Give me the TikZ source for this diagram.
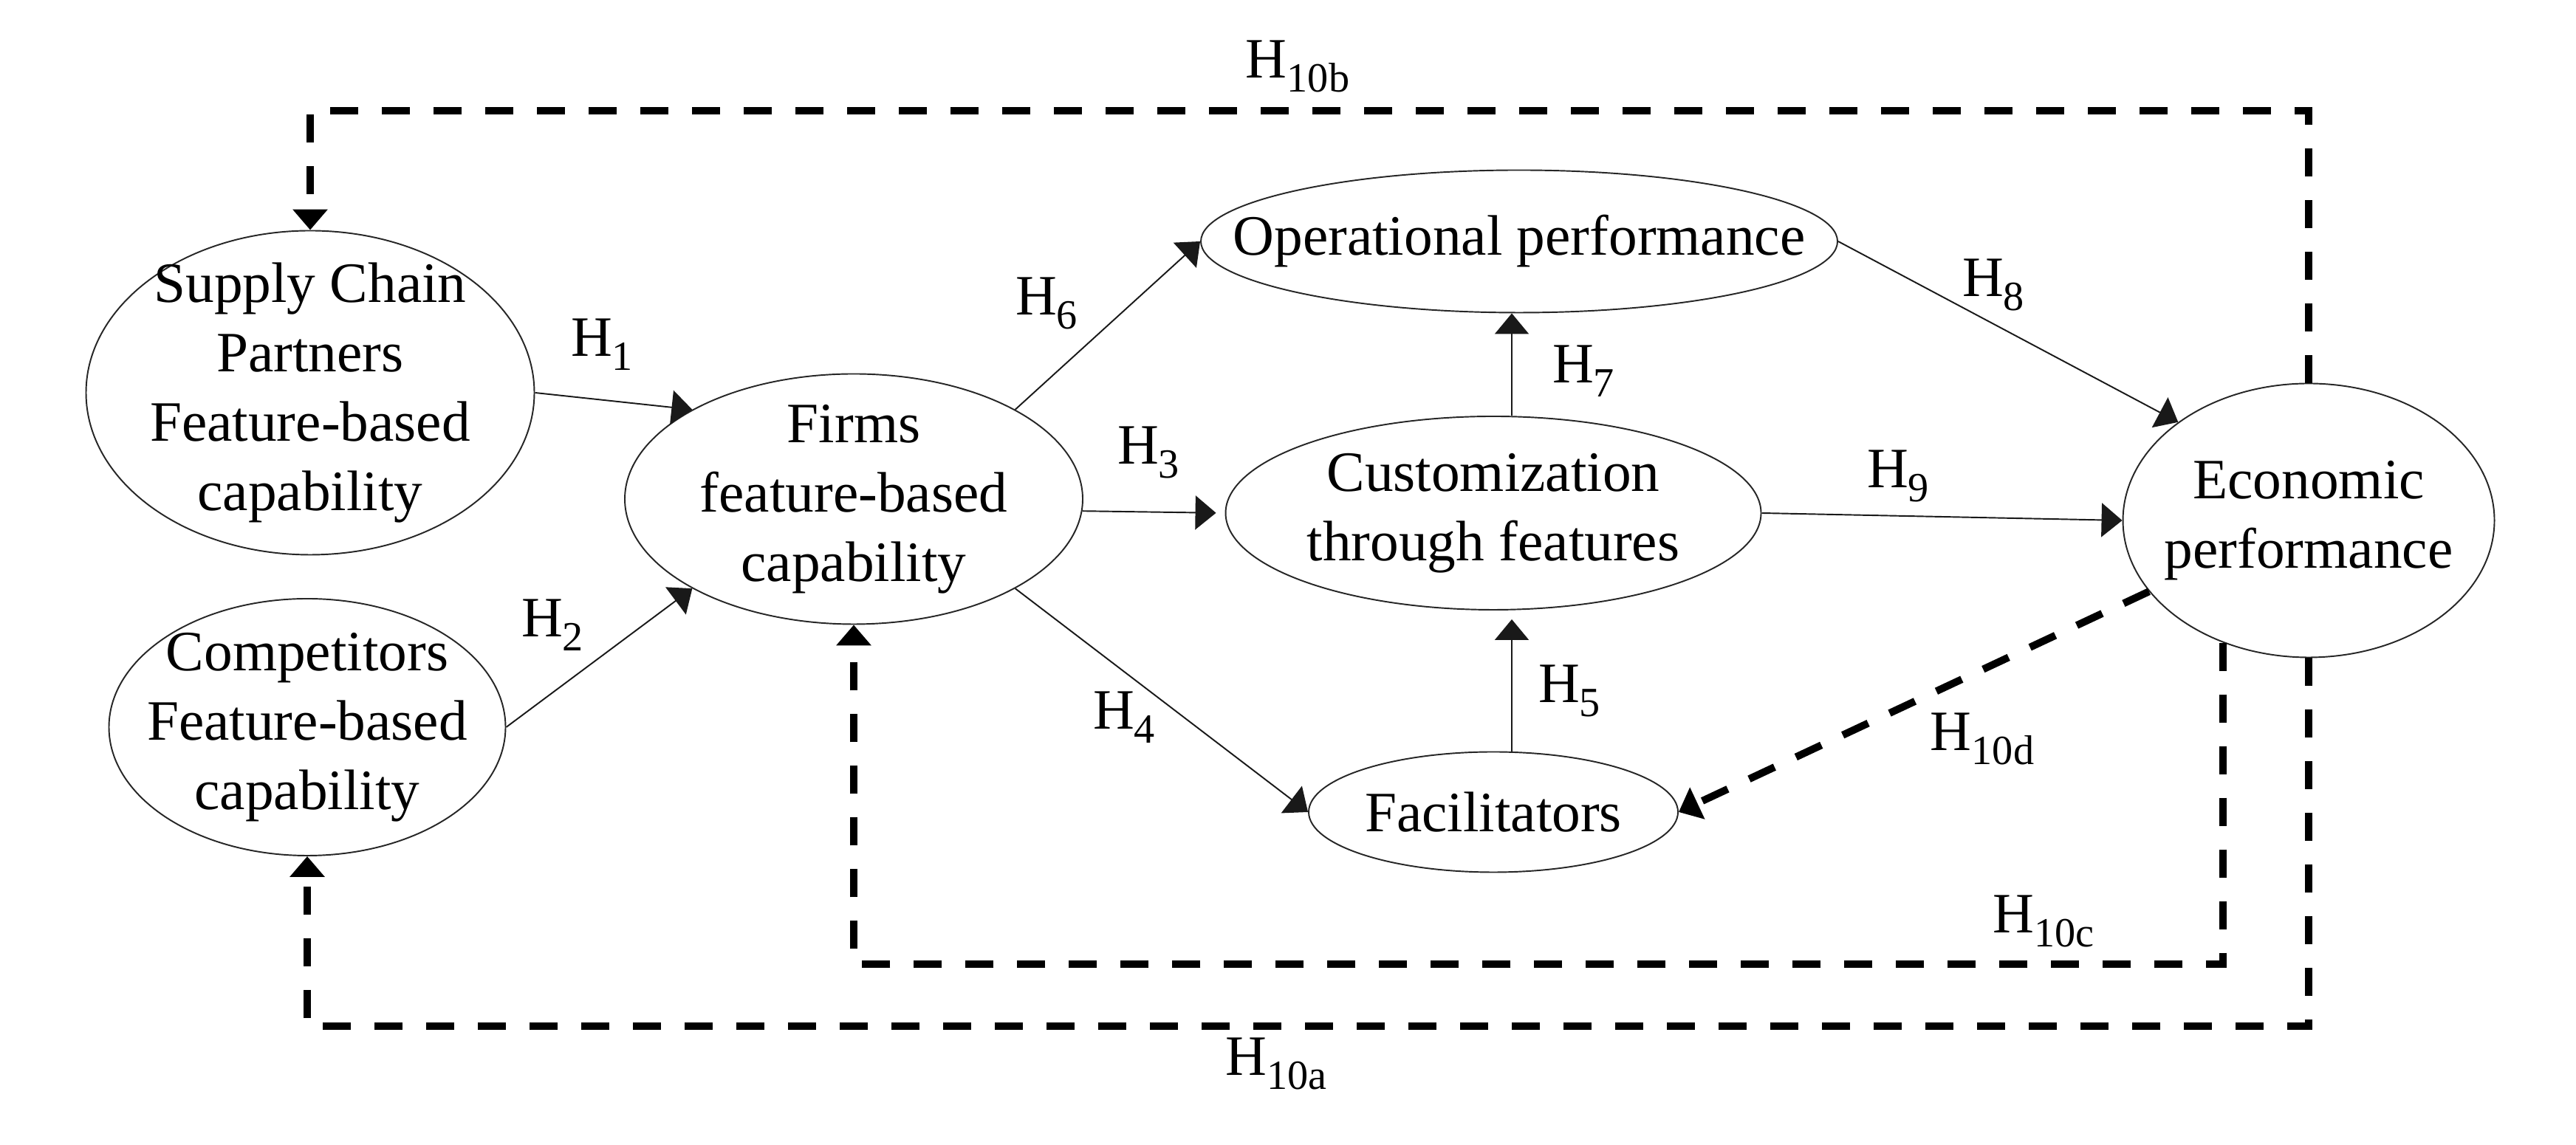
\documentclass[tikz,border=0pt]{standalone}
\usepackage{fontspec}
\setmainfont{Liberation Serif}
\usetikzlibrary{calc,positioning,shapes.geometric,arrows.meta}

\newcommand{\Hyp}[1]{H\raisebox{-0.25em}{\fontsize{16}{16}\selectfont #1}}

\begin{document}
\begin{tikzpicture}[
  >={Triangle[length=2.8mm,width=4.6mm]},
  font=\fontsize{22}{26.7}\selectfont,
  construct/.style={
    ellipse,
    fill=white,
    draw=black!85,
    line width=0.55pt,
    inner sep=-1cm,
    align=center
  },
  effect/.style={
    ->,
    line width=0.55pt,
    draw=black!90
  },
  feedback/.style={
    ->,
    line width=1mm,
    dash pattern=on 3.8mm off 3.2mm
  },
  hyp label/.style={
    inner sep=0pt
  }
  ]
\useasboundingbox (0,0) rectangle (34.88,15.51);
%\draw[help lines] (0,0) grid (35,16);
% Antecedents
\node [construct, minimum width=6.07cm, minimum height=4.39cm] (partners) at (4.20,10.19) {Supply Chain\\Partners\\Feature-based\\capability};
\node [construct, minimum width=5.37cm, minimum height=3.48cm] (competitors) at (4.16,5.66) {Competitors\\Feature-based\\capability};
% Firm
\node [construct, minimum width=6.20cm, minimum height=3.39cm] (firms) at (11.56,8.75) {Firms\\feature-based\\capability};
% Mediators
\node [construct, minimum width=8.62cm, minimum height=1.93cm] (operational) at (20.57,12.24) {Operational performance};
\node [construct, minimum width=7.25cm, minimum height=2.62cm] (customization) at (20.22,8.56) {Customization\\through features};
\node [construct, minimum width=5.00cm, minimum height=1.63cm] (facilitators) at (20.22,4.51) {Facilitators};
% Outcome
\node [construct, minimum width=5.03cm, minimum height=3.71cm] (economic) at (31.26,8.46) {Economic\\performance};
% Hypothesised effects
\draw [effect] (partners.east) -- (firms.151);
\draw [effect] (competitors.east) -- (firms.209);
\draw [effect] (firms.29) -- (operational.west);
\draw [effect, shorten >=1.2mm] (firms.357) -- (customization.west);
\draw [effect] (firms.331) -- (facilitators.west);
\draw [effect] ([xshift=2.5mm]customization.north) -- ([xshift=2.5mm]customization.north |- operational.south);
\draw [effect, shorten >=1.2mm] ([xshift=2.5mm]facilitators.north) -- ([xshift=2.5mm]facilitators.north |- customization.south);
\draw [effect] (operational.east) -- (economic.143);
\draw [effect] (customization.east) -- (economic.west);
% Feedback loops
\coordinate (top line) at (0,14.01);
\coordinate (inner line) at (0,2.45);
\coordinate (outer line) at (0,1.61);
\draw [feedback] (economic.north) -- (economic.north |- top line) -- (partners.north |- top line) -- (partners.north);
\draw [feedback] (economic.south) -- (economic.south |- outer line) -| (competitors.south);
\draw [feedback] (economic.235) -- (economic.235 |- inner line) -| (firms.south);
\draw [feedback] (economic.204) -- (facilitators.east);
% Labels
\node [hyp label] (h1) at (8.15,10.84) {\Hyp{1}};
\node [hyp label] (h2) at (7.48,7.04) {\Hyp{2}};
\node [hyp label] (h3) at (15.55,9.38) {\Hyp{3}};
\node [hyp label] (h4) at (15.22,5.79) {\Hyp{4}};
\node [hyp label] (h5) at (21.25,6.15) {\Hyp{5}};
\node [hyp label] (h6) at (14.17,11.40) {\Hyp{6}};
\node [hyp label] (h7) at (21.44,10.48) {\Hyp{7}};
\node [hyp label] (h8) at (26.99,11.65) {\Hyp{8}};
\node [hyp label] (h9) at (25.70,9.06) {\Hyp{9}};
\node [hyp label] (h10a) at (17.28,1.10) {\Hyp{10a}};
\node [hyp label] (h10b) at (17.57,14.61) {\Hyp{10b}};
\node [hyp label] (h10c) at (27.67,3.03) {\Hyp{10c}};
\node [hyp label] (h10d) at (26.84,5.50) {\Hyp{10d}};
\end{tikzpicture}
\end{document}
